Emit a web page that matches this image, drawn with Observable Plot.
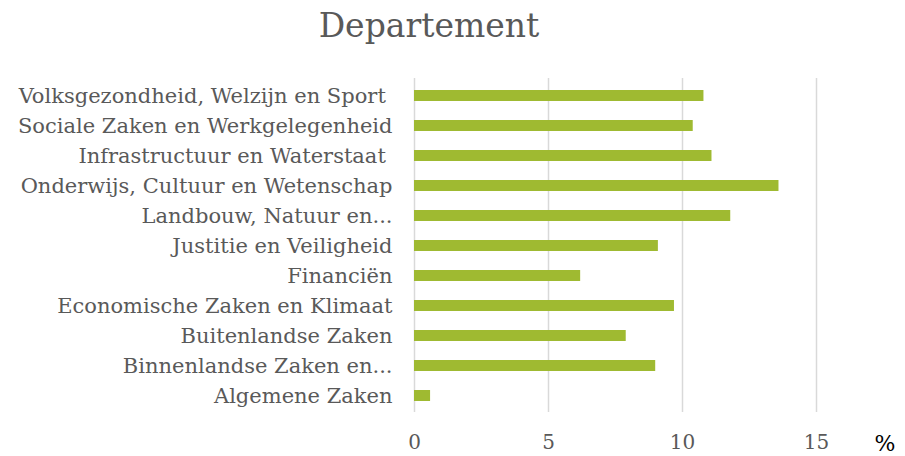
<!DOCTYPE html>
<html>
<head>
<meta charset="utf-8">
<script src="https://cdn.jsdelivr.net/npm/d3@7"></script>
<script src="https://cdn.jsdelivr.net/npm/@observablehq/plot@0.6"></script>
<style>
  html, body { margin: 0; padding: 0; background: #fff; }
  #title { width: 858px; height: 62px; text-align: center; font-family: "DejaVu Serif", serif; font-size: 33px; color: #595959; line-height: 52px; }
</style>
</head>
<body>
<div id="title">Departement</div>
<div id="chart"></div>
<script>
const departments = [
  "Volksgezondheid, Welzijn en Sport\u00a0",
  "Sociale Zaken en Werkgelegenheid",
  "Infrastructuur en Waterstaat\u00a0",
  "Onderwijs, Cultuur en Wetenschap",
  "Landbouw, Natuur en...",
  "Justitie en Veiligheid",
  "Financiën",
  "Economische Zaken en Klimaat",
  "Buitenlandse Zaken",
  "Binnenlandse Zaken en...",
  "Algemene Zaken"
];
const percentages = [10.8, 10.4, 11.1, 13.6, 11.8, 9.1, 6.2, 9.7, 7.9, 9.0, 0.6];
const xTicks = [0, 5, 10, 15];
const xUnit = "%";

const data = departments.map((d, i) => ({department: d, value: percentages[i]}));

const chart = Plot.plot({
  width: 905,
  height: 394,
  marginLeft: 414,
  marginRight: 89,
  marginTop: 16,
  marginBottom: 44,
  style: {fontFamily: "DejaVu Serif, serif", color: "#595959", background: "#fff"},
  x: {domain: [0, 15], ticks: xTicks},
  y: {domain: departments, paddingInner: 0.64, paddingOuter: 0.32},
  marks: [
    Plot.ruleX(xTicks, {stroke: "#d9d9d9", strokeWidth: 1.5}),
    Plot.barX(data, {x: "value", y: "department", fill: "#9fba31"}),
    Plot.axisX({ticks: xTicks, tickSize: 0, tickPadding: 22, fontSize: 20, fill: "#595959", label: null}),
    Plot.axisY({tickSize: 0, tickPadding: 22, fontSize: 21, fill: "#595959", label: null}),
    Plot.text([xUnit], {frameAnchor: "bottom-right", dx: 79, dy: 38, fontSize: 22, fill: "#000", text: d => d})
  ]
});
document.getElementById("chart").appendChild(chart);
</script>
</body>
</html>
